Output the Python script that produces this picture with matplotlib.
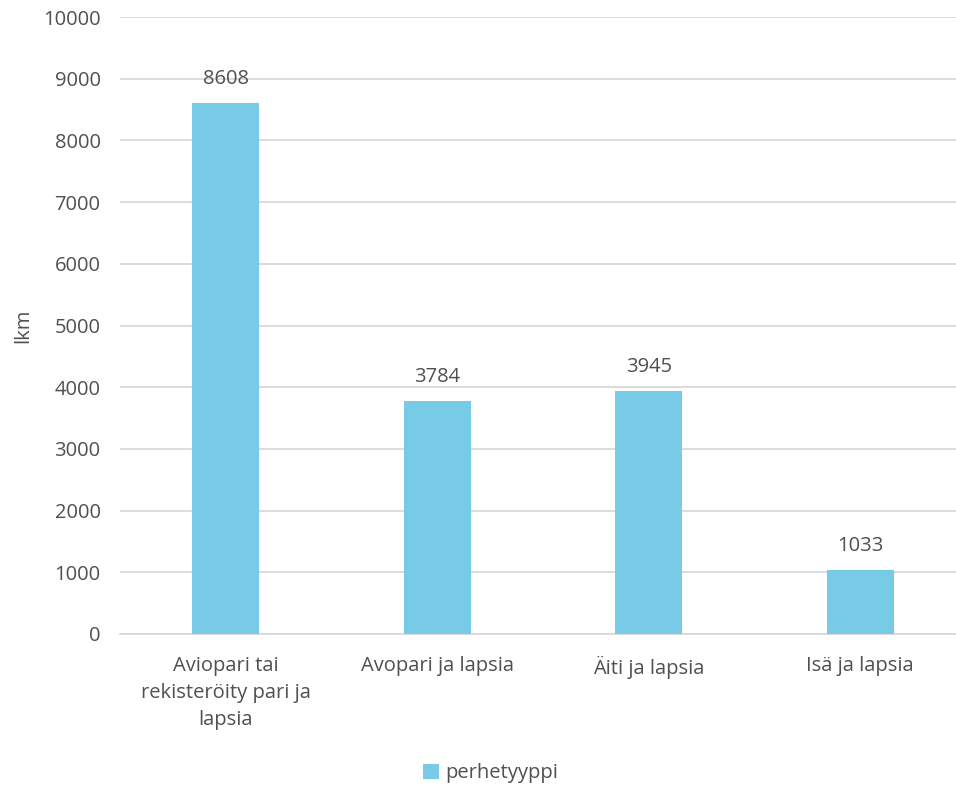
import matplotlib
matplotlib.use('Agg')
import matplotlib.pyplot as plt
from matplotlib.patches import Patch

plt.rcParams['font.family'] = ['Open Sans', 'DejaVu Sans']

categories = ['Aviopari tai\nrekisteröity pari ja\nlapsia', 'Avopari ja lapsia',
              'Äiti ja lapsia', 'Isä ja lapsia']
values = [8608, 3784, 3945, 1033]
yticks = [0, 1000, 2000, 3000, 4000, 5000, 6000, 7000, 8000, 9000, 10000]

bar_color = '#78CBE7'
text_color = '#505050'
grid_color = '#D9D9D9'
fs = 14.5

fig = plt.figure(figsize=(9.56, 7.85), dpi=100)
ax = fig.add_axes([0.1255, 0.1924, 0.885, 0.7859])

x = range(len(categories))
bars = ax.bar(x, values, width=0.315, color=bar_color, zorder=3)

for xi, v in zip(x, values):
    ax.annotate(str(v), (xi, v), xytext=(0, 10), textcoords='offset points',
                ha='center', va='bottom', fontsize=fs, color=text_color)

ax.set_xlim(-0.5, len(categories) - 0.5)
ax.set_ylim(0, 10000)
ax.set_yticks(yticks)
ax.set_yticklabels([str(t) for t in yticks], fontsize=fs, color=text_color)
ax.set_xticks(list(x))
ax.set_xticklabels(categories, fontsize=fs, color=text_color, linespacing=1.45)
ax.tick_params(axis='y', length=0, pad=14)
ax.tick_params(axis='x', length=0, pad=16)
ax.yaxis.grid(True, color=grid_color, linewidth=1.3, zorder=0)
for s in ['top', 'right', 'left']:
    ax.spines[s].set_visible(False)
ax.spines['bottom'].set_color(grid_color)
ax.spines['bottom'].set_linewidth(1.3)
ax.set_ylabel('lkm', fontsize=fs, color=text_color, labelpad=7)

handle = Patch(facecolor=bar_color, edgecolor='none')
fig.legend([handle], ['perhetyyppi'], loc='center', bbox_to_anchor=(0.513, 0.015),
           frameon=False, fontsize=fs, handlelength=0.8, handleheight=0.8,
           handletextpad=0.3, labelcolor=text_color)

fig.savefig('out.png', dpi=100)
